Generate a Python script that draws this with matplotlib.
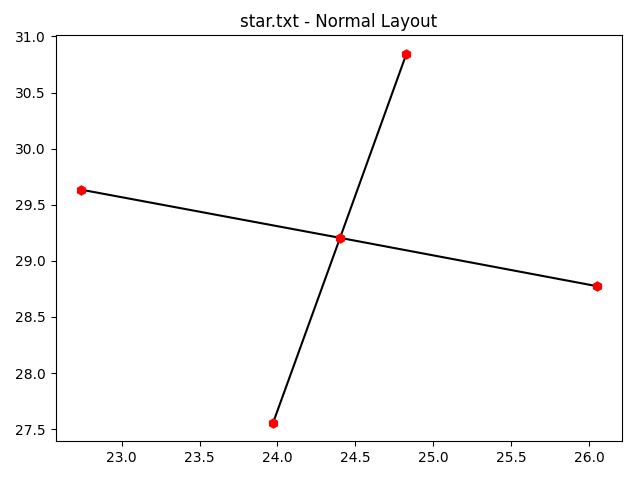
import matplotlib
matplotlib.use("Agg")
import matplotlib.pyplot as plt

# node positions (node 0 is the hub)
node_x = [24.402, 24.828, 22.742, 26.048, 23.972]
node_y = [29.205, 30.846, 29.634, 28.775, 27.556]
edges = [(0, 1), (0, 2), (0, 3), (0, 4)]

fig, ax = plt.subplots(figsize=(6.4, 4.8), dpi=100)
for a, b in edges:
    ax.plot([node_x[a], node_x[b]], [node_y[a], node_y[b]], "k-")
ax.plot(node_x, node_y, "rh", markersize=6.5)
ax.set_title("star.txt - Normal Layout")
fig.subplots_adjust(left=0.087, right=0.9723, top=0.9265, bottom=0.0806)
fig.savefig("out.png")
